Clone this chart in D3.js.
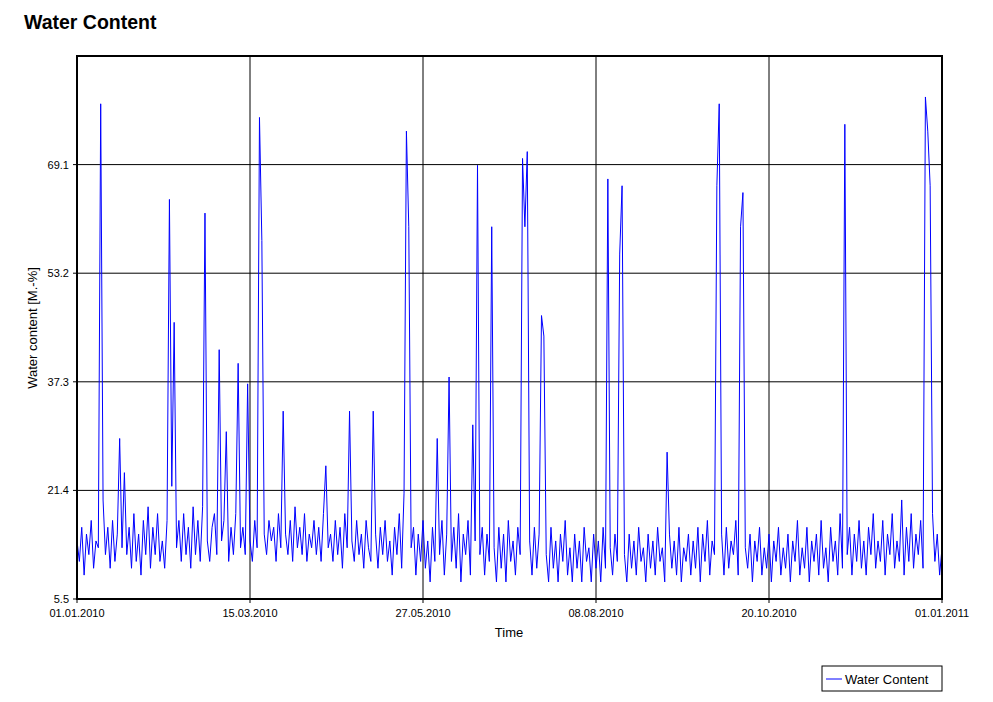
<!DOCTYPE html>
<html><head><meta charset="utf-8">
<script src="https://cdn.jsdelivr.net/npm/d3@7"></script>
<style>body{margin:0;background:#fff;font-family:Arial,"Liberation Sans",sans-serif}</style>
</head><body><svg id="c" width="993" height="702"></svg>
<script>
const startDate = "2010-01-01";
const xTickLabels = ["01.01.2010","15.03.2010","27.05.2010","08.08.2010","20.10.2010","01.01.2011"];
const xTickDays = [0,73,146,219,292,365];
const yTicks = [5.5,21.4,37.3,53.2,69.1];
const waterContent = [
14,11,16,9,15,12,17,10,14,13,
78,20,12,16,10,17,11,15,29,13,
24,12,16,10,18,11,15,9,17,12,
19,10,16,12,18,11,14,10,17,64,
22,46,13,17,11,18,12,16,10,19,
12,17,11,19,62,14,11,16,18,12,
42,14,17,30,11,16,12,18,40,13,
16,12,37,14,11,17,13,76,58,15,
12,17,14,16,11,18,13,33,15,12,
17,11,19,13,16,12,18,11,15,13,
17,12,16,11,18,25,13,15,11,17,
12,16,10,18,13,33,14,11,17,12,
15,10,17,13,11,33,15,10,16,12,
17,11,14,9,16,12,18,10,21,74,
60,13,16,9,15,11,17,10,14,8,
16,11,29,12,17,9,15,38,11,16,
10,18,8,15,12,17,9,31,14,69,
12,16,9,15,11,60,13,8,16,10,
15,8,17,11,14,9,16,12,70,60,
71,14,9,16,10,15,47,44,12,8,
16,10,14,8,15,11,17,9,13,8,
15,10,14,8,16,11,13,8,15,10,
14,8,16,10,67,13,9,15,11,56,
66,12,8,15,10,14,9,16,11,13,
8,15,10,14,9,16,11,13,8,27,
15,10,14,9,16,8,13,11,15,9,
14,10,16,8,15,11,17,9,14,12,
66,78,15,9,16,10,14,12,17,9,
60,65,13,10,15,8,14,11,16,9,
13,10,15,8,14,11,16,9,13,10,
15,8,14,11,17,9,13,10,16,8,
14,11,15,9,17,10,13,8,16,11,
14,9,18,10,75,12,16,9,15,11,
17,10,14,9,16,12,18,10,14,11,
17,9,15,12,18,10,14,11,20,9,
16,11,18,10,15,12,17,10,79,74,
66,18,11,15,9,13];

const svg = d3.select("#c");
const L=77,R=942,T=56,B=599;
const x = d3.scaleLinear().domain([0,365]).range([L,R]);
const y = d3.scaleLinear().domain([5.5,85]).range([B,T]);

svg.append("text").attr("x",24).attr("y",29).attr("font-size",19.5).attr("font-weight","bold").text("Water Content");

const g = svg.append("g");
g.selectAll(".gy").data(yTicks.slice(1)).join("line").attr("x1",L).attr("x2",R)
  .attr("y1",d=>y(d)).attr("y2",d=>y(d)).attr("stroke","#000").attr("stroke-width",1);
g.selectAll(".gx").data(xTickDays.slice(1,-1)).join("line").attr("y1",T).attr("y2",B)
  .attr("x1",d=>x(d)).attr("x2",d=>x(d)).attr("stroke","#000").attr("stroke-width",1);

const line = d3.line().x((d,i)=>x(i)).y(d=>y(d));
svg.append("path").datum(waterContent).attr("d",line).attr("fill","none").attr("stroke","#0000ff").attr("stroke-width",1);

svg.append("rect").attr("x",L).attr("y",T).attr("width",R-L).attr("height",B-T).attr("fill","none").attr("stroke","#000").attr("stroke-width",2);

svg.selectAll(".yt").data(yTicks).join("text").attr("x",L-8).attr("y",d=>y(d)+4).attr("text-anchor","end").attr("font-size",11).text(d=>d.toFixed(1));
svg.selectAll(".xt").data(xTickDays).join("text").attr("x",d=>x(d)).attr("y",617).attr("text-anchor","middle").attr("font-size",11).text((d,i)=>xTickLabels[i]);
svg.selectAll(".ytk").data(yTicks).join("line").attr("x1",L-4).attr("x2",L).attr("y1",d=>y(d)).attr("y2",d=>y(d)).attr("stroke","#000");
svg.selectAll(".xtk").data(xTickDays).join("line").attr("y1",B).attr("y2",B+4).attr("x1",d=>x(d)).attr("x2",d=>x(d)).attr("stroke","#000");

svg.append("text").attr("x",509).attr("y",637).attr("text-anchor","middle").attr("font-size",13).text("Time");
svg.append("text").attr("transform","translate(37,328) rotate(-90)").attr("text-anchor","middle").attr("font-size",13).text("Water content [M.-%]");

svg.append("rect").attr("x",822).attr("y",666).attr("width",120).attr("height",25).attr("fill","#fff").attr("stroke","#000");
svg.append("line").attr("x1",826).attr("x2",842).attr("y1",679).attr("y2",679).attr("stroke","#0000ff");
svg.append("text").attr("x",845).attr("y",684).attr("font-size",13).text("Water Content");
</script></body></html>
